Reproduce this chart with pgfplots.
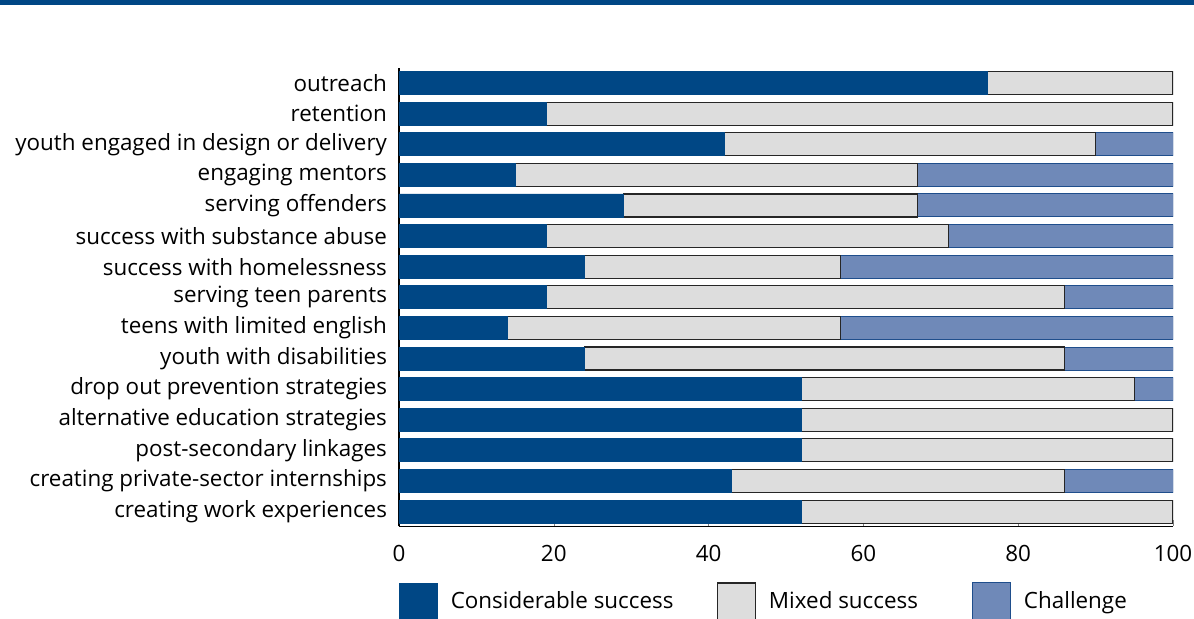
\documentclass[border=0pt]{standalone}
\usepackage{pgfplots}
\pgfplotsset{compat=1.18}
\usepackage{fontspec}
\setmainfont{Open Sans}
\definecolor{dblue}{HTML}{004785}
\definecolor{lgray}{HTML}{DDDDDD}
\definecolor{mblue}{HTML}{6F89B8}
\definecolor{bblue}{HTML}{1F4E8C}
\begin{document}
\begin{tikzpicture}
\begin{axis}[
  scale only axis,
  width=387pt, height=229.3pt,
  xbar stacked,
  bar width=11.5pt,
  xmin=0, xmax=100,
  ymin=-0.48, ymax=14.5,
  axis x line=bottom, axis y line=left,
  axis line style={-, line width=0.8pt},
  xtick={0,20,40,60,80,100},
  tick align=inside,
  major tick length=3pt,
  ytick={0,...,14},
  ytick style={draw=none},
  yticklabels={creating work experiences, creating private-sector internships, post-secondary linkages, alternative education strategies, drop out prevention strategies, youth with disabilities, teens with limited english, serving teen parents, success with homelessness, success with substance abuse, serving offenders, engaging mentors, youth engaged in design or delivery, retention, outreach},
  tick label style={font=\fontsize{11.2}{13}\selectfont},
  yticklabel style={xshift=-2.5pt},
  /pgf/number format/assume math mode=true,
  xticklabel style={yshift=-6pt},
  legend columns=3,
  legend style={at={(0,0)}, anchor=north west, yshift=-28pt, draw=none, inner sep=0pt, outer sep=0pt,
    nodes={inner sep=0pt, font=\fontsize{11.2}{13}\selectfont}, column sep=0pt},
  legend image code/.code={\draw[#1] (0pt,-9.5pt) rectangle (19pt,9.5pt); \path (25.5pt,0pt);},
]
\addplot+[fill=dblue, draw=dblue, line width=0.4pt] coordinates {
(52,0) (43,1) (52,2) (52,3) (52,4) (24,5) (14,6) (19,7) (24,8) (19,9) (29,10) (15,11) (42,12) (19,13) (76,14)};
\addplot+[fill=lgray, draw=black!85, line width=0.6pt] coordinates {
(48,0) (43,1) (48,2) (48,3) (43,4) (62,5) (43,6) (67,7) (33,8) (52,9) (38,10) (52,11) (48,12) (81,13) (24,14)};
\addplot+[fill=mblue, draw=bblue, line width=0.5pt] coordinates {
(0,0) (14,1) (0,2) (0,3) (5,4) (14,5) (43,6) (14,7) (43,8) (29,9) (33,10) (33,11) (10,12) (0,13) (0,14)};
\legend{\makebox[133pt][l]{Considerable success},\makebox[101.5pt][l]{Mixed success},Challenge}
\end{axis}
\draw[dblue, line width=2.5pt] ([shift={(-199.5pt,261.9pt)}]current axis.south west) -- ++(597pt,0);
\pgfresetboundingbox
\path[use as bounding box] ([shift={(-199.5pt,-46pt)}]current axis.south west) rectangle ([shift={(397.5pt,263.15pt)}]current axis.south west);
\end{tikzpicture}
\end{document}
